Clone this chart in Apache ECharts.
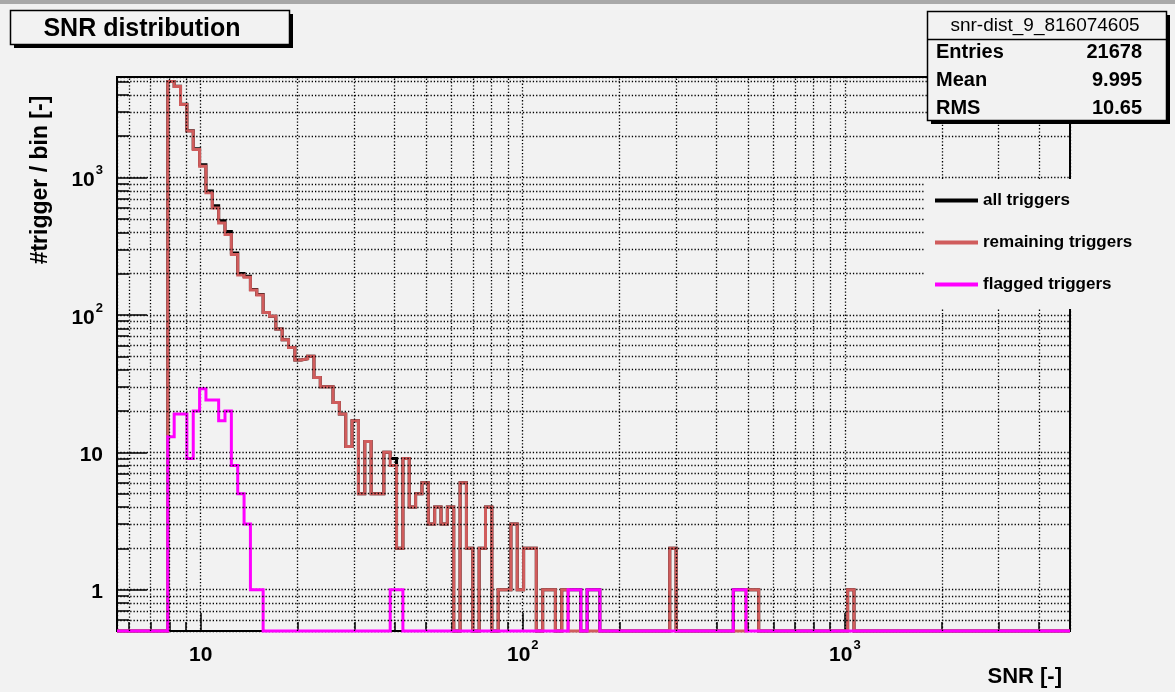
<!DOCTYPE html>
<html>
<head>
<meta charset="utf-8">
<title>SNR distribution</title>
<script src="https://cdn.jsdelivr.net/npm/echarts@6/dist/echarts.min.js"></script>
<style>
    html, body { margin: 0; padding: 0; background: #f2f2f2; }
    #chart { width: 1175px; height: 692px; }
</style>
</head>
<body>
<div id="chart"></div>
<script>
// ======================
// DATA
// ======================

// x axis range = histogram range, 150 log-spaced bins
const X_MIN = 5.5;
const X_MAX = 5000;
const N_BINS = 150;
const FIRST_BIN = 8;   // the count arrays start at this bin

const Y_MIN = 0.5;
const Y_MAX = 5400;

// counts per bin, bins 8 .. 115 (all later bins are empty)
const allTriggers = [
    5013, 4619, 3419, 2189, 1620, 1239, 799, 624, 485, 405,
    283, 200, 191, 153, 141, 104, 98, 79, 66, 58,
    47, 48, 50, 35, 30, 30, 23, 19, 11, 17,
    5, 12, 5, 5, 10, 9, 2, 9, 4, 5,
    6, 3, 4, 3, 4, 0, 6, 2, 0, 2,
    4, 0, 1, 1, 3, 1, 2, 2, 0, 1,
    1, 0, 1, 1, 1, 0, 1, 1, 0, 0,
    0, 0, 0, 0, 0, 0, 0, 0, 0, 2,
    0, 0, 0, 0, 0, 0, 0, 0, 0, 1,
    1, 1, 1, 0, 0, 0, 0, 0, 0, 0,
    0, 0, 0, 0, 0, 0, 0, 1
];

const remainingTriggers = [
    5000, 4600, 3400, 2180, 1600, 1210, 775, 600, 468, 385,
    275, 195, 188, 152, 140, 104, 98, 79, 66, 58,
    47, 48, 50, 35, 30, 30, 23, 19, 11, 17,
    5, 12, 5, 5, 10, 8, 2, 9, 4, 5,
    6, 3, 4, 3, 4, 0, 6, 2, 0, 2,
    4, 0, 1, 1, 3, 1, 2, 2, 0, 1,
    1, 0, 1, 0, 0, 0, 0, 0, 0, 0,
    0, 0, 0, 0, 0, 0, 0, 0, 0, 2,
    0, 0, 0, 0, 0, 0, 0, 0, 0, 0,
    0, 1, 1, 0, 0, 0, 0, 0, 0, 0,
    0, 0, 0, 0, 0, 0, 0, 1
];

const flaggedTriggers = [
    13, 19, 19, 9, 20, 29, 24, 24, 17, 20,
    8, 5, 3, 1, 1, 0, 0, 0, 0, 0,
    0, 0, 0, 0, 0, 0, 0, 0, 0, 0,
    0, 0, 0, 0, 0, 1, 1, 0, 0, 0,
    0, 0, 0, 0, 0, 0, 0, 0, 0, 0,
    0, 0, 0, 0, 0, 0, 0, 0, 0, 0,
    0, 0, 0, 1, 1, 0, 1, 1, 0, 0,
    0, 0, 0, 0, 0, 0, 0, 0, 0, 0,
    0, 0, 0, 0, 0, 0, 0, 0, 0, 1,
    1, 0, 0, 0, 0, 0, 0, 0, 0, 0,
    0, 0, 0, 0, 0, 0, 0, 0
];

const xMinorTicks = [6, 7, 8, 9, 20, 30, 40, 50, 60, 70, 80, 90,
    200, 300, 400, 500, 600, 700, 800, 900, 2000, 3000, 4000];
const yMinorTicks = [0.6, 0.7, 0.8, 0.9, 2, 3, 4, 5, 6, 7, 8, 9,
    20, 30, 40, 50, 60, 70, 80, 90, 200, 300, 400, 500, 600, 700, 800, 900,
    2000, 3000, 4000, 5000];

const seriesNames = ['all triggers', 'remaining triggers', 'flagged triggers'];
const statsTitle = 'snr-dist_9_816074605';
const statsLabels = ['Entries', 'Mean', 'RMS'];
const statsValues = ['21678', '9.995', '10.65'];

// ======================
// CONFIG
// ======================

const FONT = '"Liberation Sans", Arial, sans-serif';
const BG = '#f2f2f2';

const seriesConfig = [
    { name: seriesNames[0], counts: allTriggers, color: '#000000', z: 2 },
    { name: seriesNames[1], counts: remainingTriggers, color: '#d05c5c', z: 3 },
    { name: seriesNames[2], counts: flaggedTriggers, color: '#ff00ff', z: 4 }
];

// ======================
// HELPERS
// ======================

/**
 * lower edge of bin k (log-spaced between X_MIN and X_MAX)
 */
function binEdge(k) {
    const lo = Math.log10(X_MIN);
    const hi = Math.log10(X_MAX);
    return Math.pow(10, lo + (hi - lo) * k / N_BINS);
}

/**
 * ROOT-like step outline; empty bins are drawn along the axis floor
 */
function histPoints(counts) {
    const pts = [[X_MIN, Y_MIN]];
    for (let k = 0; k < N_BINS; k++) {
        const c = counts[k - FIRST_BIN] || 0;
        const v = c > 0 ? c : Y_MIN;
        pts.push([binEdge(k), v], [binEdge(k + 1), v]);
    }
    pts.push([X_MAX, Y_MIN]);
    return pts;
}

function powerLabel(value) {
    const p = Math.round(Math.log10(value));
    if (p === 0) return '{b|1}';
    if (p === 1) return '{b|10}';
    return '{b|10}{s|' + p + '}';
}

// b carries a top pad so every label has the same height as "10^n"
const labelRich = {
    b: { fontFamily: FONT, fontWeight: 'bold', fontSize: 21, color: '#000', padding: [6, 0, 0, 0] },
    s: { fontFamily: FONT, fontWeight: 'bold', fontSize: 13, color: '#000', verticalAlign: 'top', padding: [0, 0, 14, 1] }
};

const dotted = { color: '#000', width: 1.3, type: [1.3, 2] };

function logAxis(min, max, margin, extra) {
    return Object.assign({
        type: 'log',
        logBase: 10,
        min: min,
        max: max,
        splitLine: { show: true, lineStyle: dotted },
        axisLine: { show: true, lineStyle: { color: '#000', width: 2 } },
        axisLabel: {
            formatter: powerLabel,
            rich: labelRich,
            margin: margin,
            showMinLabel: false,
            showMaxLabel: false
        }
    }, extra);
}

function minorAxis(min, max, ticks, len, extra) {
    return Object.assign({
        type: 'log',
        logBase: 10,
        min: min,
        max: max,
        axisLine: { show: false },
        axisLabel: { show: false },
        splitLine: { show: false },
        axisTick: { show: true, inside: true, length: len, customValues: ticks,
            lineStyle: { color: '#000', width: 1.5 } }
    }, extra);
}

// ======================
// GRAPHIC (title, stats box, axis titles)
// ======================

function text(x, y, str, font, align, extra) {
    return Object.assign({
        type: 'text', x: x, y: y, z: 102,
        style: { text: str, font: font, fill: '#000', align: align, verticalAlign: 'middle' }
    }, extra);
}

const graphics = [
    { type: 'rect', z: 100, shape: { x: 0, y: 0, width: 1175, height: 4 }, style: { fill: '#a9a9a9' } },

    { type: 'rect', z: 100, shape: { x: 14, y: 14, width: 279, height: 34 }, style: { fill: '#000' } },
    { type: 'rect', z: 101, shape: { x: 10.5, y: 10.5, width: 279, height: 34 },
        style: { fill: BG, stroke: '#000', lineWidth: 1.5 } },
    text(142, 29, 'SNR distribution', 'bold 25px ' + FONT, 'center'),

    { type: 'rect', z: 100, shape: { x: 931, y: 15, width: 239, height: 109 }, style: { fill: '#000' } },
    { type: 'rect', z: 101, shape: { x: 927.5, y: 11.5, width: 239, height: 109 },
        style: { fill: BG, stroke: '#000', lineWidth: 1.5 } },
    { type: 'line', z: 102, shape: { x1: 927.5, y1: 39.5, x2: 1166.5, y2: 39.5 },
        style: { stroke: '#000', lineWidth: 1.5 } },
    text(1045, 25.5, statsTitle, '19px ' + FONT, 'center'),

    text(1062, 677, 'SNR [-]', 'bold 22px ' + FONT, 'right'),
    text(41, 180, '#trigger / bin [-]', 'bold 23px ' + FONT, 'center', { rotation: Math.PI / 2 })
];

statsLabels.forEach((label, i) => {
    graphics.push(text(936, 52 + 28 * i, label, 'bold 20px ' + FONT, 'left'));
    graphics.push(text(1142, 52 + 28 * i, statsValues[i], 'bold 20px ' + FONT, 'right'));
});

// ======================
// OPTION
// ======================

const histSeries = seriesConfig.map(s => ({
    name: s.name,
    type: 'line',
    data: histPoints(s.counts),
    showSymbol: false,
    symbol: 'none',
    clip: false,
    z: s.z,
    itemStyle: { color: s.color },
    lineStyle: { color: s.color, width: 3, join: 'miter' }
}));

const gridSeries = {
    name: 'grid',
    type: 'line',
    data: [[X_MIN, Y_MIN]],
    symbol: 'none',
    silent: true,
    z: 1,
    lineStyle: { width: 0 },
    markLine: {
        silent: true,
        symbol: ['none', 'none'],
        label: { show: false },
        animation: false,
        lineStyle: dotted,
        data: xMinorTicks.map(v => ({ xAxis: v })).concat(yMinorTicks.map(v => ({ yAxis: v })))
    }
};

const option = {
    animation: false,
    backgroundColor: BG,
    grid: {
        show: true,
        left: 117,
        right: 105,
        top: 77,
        bottom: 61,
        borderColor: '#000',
        borderWidth: 2,
        backgroundColor: 'transparent'
    },
    legend: {
        data: seriesNames,
        orient: 'vertical',
        left: 925,
        top: 179,
        padding: [13, 12, 16, 10],
        itemGap: 25,
        itemWidth: 43,
        itemHeight: 4,
        icon: 'rect',
        selectedMode: false,
        backgroundColor: BG,
        z: 10,
        textStyle: { fontFamily: FONT, fontWeight: 'bold', fontSize: 17, color: '#000' }
    },
    xAxis: [
        logAxis(X_MIN, X_MAX, 8, {
            position: 'bottom',
            axisTick: { show: true, inside: true, length: 18, lineStyle: { color: '#000', width: 1.5 } }
        }),
        minorAxis(X_MIN, X_MAX, xMinorTicks, 9, { position: 'bottom' })
    ],
    yAxis: [
        logAxis(Y_MIN, Y_MAX, 14, {
            position: 'left',
            axisTick: { show: true, inside: true, length: 30, lineStyle: { color: '#000', width: 1.5 } }
        }),
        minorAxis(Y_MIN, Y_MAX, yMinorTicks, 12, { position: 'left' })
    ],
    graphic: graphics,
    series: [gridSeries].concat(histSeries)
};

const chart = echarts.init(document.getElementById('chart'));
chart.setOption(option);
</script>
</body>
</html>
